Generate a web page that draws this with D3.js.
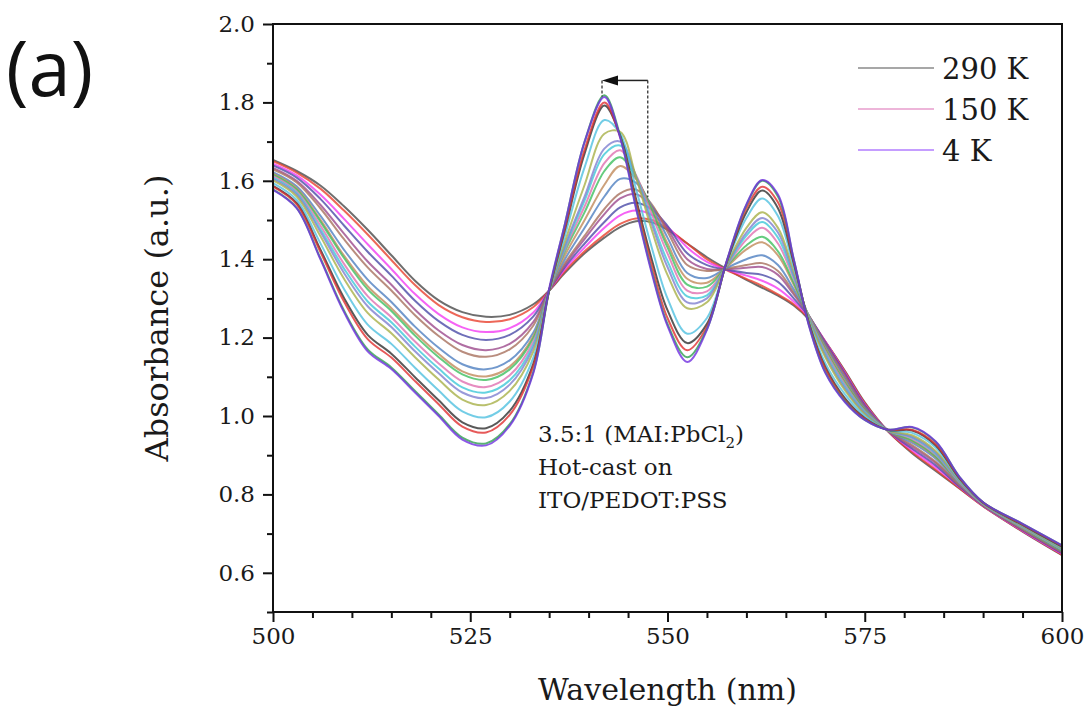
<!DOCTYPE html>
<html lang="en">
<head>
<meta charset="UTF-8">
<title>Absorbance vs wavelength</title>
<script src="https://d3js.org/d3.v7.min.js"></script>
<style>
  body { margin: 0; background: #fff; }
</style>
</head>
<body>
<svg id="chart"></svg>
<script>
// wavelengths (nm) shared by every spectrum
const wavelength = [500, 503, 506, 509, 512, 515, 518, 521, 524, 527, 530, 533,
  535, 537, 539.5, 542, 544, 546, 548, 550, 552.5, 555, 557.5, 560, 562, 564, 566, 568, 570, 572.5, 575,
  578, 581, 584, 587, 590, 595, 600];

// one row per temperature, 290 K first, 4 K last
const spectra = [
  [1.653,1.625,1.588,1.535,1.475,1.41,1.345,1.295,1.265,1.253,1.258,1.285, 1.32,1.365,1.415,1.455,1.482,1.497,1.494,1.475,1.44,1.405,1.375,1.347,1.327,1.307,1.282,1.245,1.19,1.115,1.035, 0.96,0.905,0.86,0.815,0.77,0.705,0.645],
  [1.650,1.621,1.580,1.524,1.463,1.398,1.334,1.283,1.252,1.240,1.247,1.278, 1.32,1.37,1.42,1.462,1.49,1.504,1.50,1.478,1.44,1.40,1.372,1.35,1.332,1.31,1.285,1.247,1.19,1.113,1.033, 0.960,0.908,0.863,0.816,0.770,0.706,0.646],
  [1.644,1.614,1.565,1.503,1.438,1.375,1.311,1.260,1.226,1.214,1.224,1.264, 1.32,1.375,1.43,1.48,1.512,1.524,1.513,1.483,1.43,1.393,1.373,1.358,1.345,1.325,1.292,1.25,1.19,1.11,1.03, 0.961,0.913,0.869,0.819,0.771,0.707,0.648],
  [1.639,1.608,1.554,1.486,1.419,1.358,1.294,1.242,1.207,1.194,1.207,1.254, 1.32,1.38,1.44,1.495,1.532,1.544,1.527,1.485,1.415,1.385,1.373,1.365,1.36,1.342,1.30,1.252,1.188,1.108,1.028, 0.961,0.917,0.874,0.820,0.772,0.709,0.650],
  [1.633,1.600,1.539,1.465,1.394,1.335,1.271,1.218,1.181,1.168,1.184,1.240, 1.32,1.385,1.452,1.515,1.555,1.566,1.535,1.478,1.40,1.375,1.374,1.378,1.38,1.36,1.31,1.253,1.185,1.105,1.025, 0.961,0.922,0.880,0.823,0.773,0.710,0.652],
  [1.629,1.596,1.530,1.451,1.379,1.320,1.257,1.204,1.164,1.151,1.170,1.231, 1.32,1.39,1.46,1.528,1.568,1.578,1.54,1.47,1.385,1.37,1.376,1.385,1.39,1.37,1.315,1.253,1.183,1.10,1.022, 0.962,0.926,0.883,0.824,0.773,0.711,0.653],
  [1.622,1.586,1.511,1.424,1.348,1.291,1.228,1.174,1.132,1.119,1.142,1.213, 1.32,1.40,1.48,1.56,1.605,1.595,1.535,1.455,1.365,1.352,1.378,1.40,1.41,1.385,1.323,1.253,1.18,1.095,1.02, 0.962,0.932,0.891,0.827,0.774,0.713,0.655],
  [1.618,1.581,1.501,1.409,1.331,1.275,1.213,1.158,1.114,1.101,1.126,1.204, 1.32,1.41,1.50,1.59,1.638,1.605,1.53,1.44,1.35,1.34,1.38,1.425,1.443,1.41,1.335,1.252,1.175,1.09,1.017, 0.962,0.936,0.895,0.829,0.775,0.714,0.657],
  [1.616,1.578,1.496,1.403,1.323,1.268,1.205,1.150,1.106,1.092,1.119,1.199, 1.32,1.42,1.52,1.625,1.66,1.61,1.525,1.43,1.335,1.33,1.382,1.435,1.457,1.42,1.34,1.25,1.17,1.085,1.015, 0.962,0.938,0.897,0.830,0.775,0.715,0.657],
  [1.612,1.573,1.486,1.388,1.306,1.252,1.190,1.134,1.088,1.074,1.104,1.190, 1.32,1.425,1.535,1.645,1.678,1.615,1.515,1.415,1.32,1.318,1.383,1.45,1.48,1.44,1.35,1.25,1.165,1.08,1.012, 0.963,0.942,0.901,0.831,0.775,0.716,0.659],
  [1.608,1.569,1.477,1.376,1.292,1.239,1.177,1.121,1.073,1.060,1.091,1.182, 1.32,1.43,1.55,1.668,1.69,1.612,1.50,1.395,1.305,1.308,1.385,1.46,1.495,1.455,1.355,1.248,1.16,1.075,1.01, 0.963,0.945,0.904,0.833,0.776,0.717,0.660],
  [1.605,1.565,1.470,1.365,1.280,1.227,1.165,1.109,1.060,1.046,1.080,1.175, 1.32,1.435,1.56,1.682,1.70,1.61,1.49,1.38,1.29,1.30,1.386,1.468,1.505,1.468,1.36,1.246,1.155,1.07,1.007, 0.963,0.947,0.907,0.834,0.776,0.718,0.661],
  [1.601,1.560,1.459,1.350,1.263,1.211,1.150,1.093,1.042,1.028,1.064,1.165, 1.32,1.445,1.59,1.72,1.725,1.61,1.475,1.36,1.275,1.29,1.387,1.48,1.52,1.48,1.368,1.244,1.15,1.065,1.005, 0.963,0.951,0.911,0.836,0.777,0.719,0.662],
  [1.594,1.551,1.441,1.324,1.233,1.184,1.123,1.065,1.012,0.997,1.037,1.149, 1.32,1.46,1.635,1.755,1.72,1.58,1.43,1.30,1.21,1.25,1.39,1.505,1.555,1.51,1.38,1.238,1.135,1.055,1.0, 0.964,0.957,0.919,0.838,0.778,0.721,0.665],
  [1.587,1.543,1.425,1.301,1.207,1.159,1.099,1.040,0.984,0.969,1.013,1.134, 1.32,1.475,1.67,1.792,1.715,1.555,1.40,1.27,1.186,1.235,1.392,1.52,1.575,1.53,1.39,1.232,1.125,1.045,0.995, 0.964,0.963,0.925,0.841,0.779,0.722,0.667],
  [1.585,1.540,1.419,1.292,1.196,1.149,1.089,1.030,0.973,0.958,1.003,1.128, 1.32,1.48,1.68,1.80,1.712,1.545,1.385,1.25,1.168,1.228,1.393,1.53,1.585,1.545,1.395,1.23,1.12,1.04,0.993, 0.965,0.965,0.928,0.842,0.779,0.723,0.668],
  [1.578,1.531,1.403,1.269,1.170,1.124,1.064,1.004,0.945,0.930,0.979,1.113, 1.32,1.49,1.70,1.818,1.715,1.535,1.37,1.235,1.15,1.222,1.394,1.538,1.60,1.56,1.40,1.227,1.112,1.037,0.99, 0.965,0.971,0.934,0.845,0.780,0.725,0.670],
  [1.577,1.53,1.40,1.265,1.165,1.12,1.06,1.0,0.94,0.925,0.975,1.11, 1.325,1.49,1.70,1.814,1.71,1.53,1.365,1.23,1.138,1.22,1.395,1.54,1.602,1.565,1.40,1.225,1.11,1.035,0.99, 0.965,0.972,0.935,0.845,0.78,0.725,0.67]
];

// origin-like colour per spectrum (same order as spectra)
const colors = ["#4a4a4a", "#e8412e", "#f23cf2", "#4b4ba8", "#9c4a8c", "#a8705e",
  "#4f7fc0", "#c08a5a", "#3fbf5f", "#e070b0", "#3ec8d8", "#8080d0",
  "#a8b048", "#50c0e0", "#303030", "#e03030", "#30a050", "#7030e0"];

// legend shows only three of the spectra
const legendLabels = ["290 K", "150 K", "4 K"];
const legendColors = ["#8a8a8a", "#e79ccd", "#b27cff"];

const xTicks = [500, 525, 550, 575, 600];
const yTicks = [0.6, 0.8, 1.0, 1.2, 1.4, 1.6, 1.8, 2.0];

const noteLines = ["3.5:1 (MAI:PbCl", "Hot-cast on", "ITO/PEDOT:PSS"];
// peak shift arrow: from / to wavelength, height, dashed drop levels
const arrowFrom = 547.5, arrowTo = 541.7, arrowY = 1.856;
const dropFrom = 1.558, dropTo = 1.815;

const serif = "'DejaVu Serif', 'Liberation Serif', serif";
const W = 1092, H = 715;
const margin = {top: 24, right: 30, bottom: 103, left: 273};
const x0 = margin.left, x1 = W - margin.right, y0 = margin.top, y1 = H - margin.bottom;

const svg = d3.select("#chart").attr("width", W).attr("height", H);
svg.append("rect").attr("width", W).attr("height", H).attr("fill", "#fff");

const x = d3.scaleLinear().domain([500, 600]).range([x0, x1]);
const y = d3.scaleLinear().domain([0.5, 2.0]).range([y1, y0]);

svg.append("clipPath").attr("id", "plot-clip")
  .append("rect").attr("x", x0).attr("y", y0).attr("width", x1 - x0).attr("height", y1 - y0);

const line = d3.line()
  .x((d, i) => x(wavelength[i]))
  .y(d => y(d))
  .curve(d3.curveCatmullRom.alpha(0.5));

svg.append("g").attr("clip-path", "url(#plot-clip)")
  .selectAll("path")
  .data(spectra)
  .join("path")
  .attr("d", line)
  .attr("fill", "none")
  .attr("stroke", (d, i) => colors[i])
  .attr("stroke-opacity", 0.8)
  .attr("stroke-width", 2);

// axes: major + minor ticks outward
const xAxis = d3.axisBottom(x).tickValues(xTicks).tickFormat(d3.format("d")).tickSize(10).tickPadding(6);
const xMinor = d3.axisBottom(x).tickValues(d3.range(505, 600, 5).filter(v => v % 25)).tickSize(6).tickFormat("");
const yAxis = d3.axisLeft(y).tickValues(yTicks).tickFormat(d3.format(".1f")).tickSize(10).tickPadding(8);
const yMinor = d3.axisLeft(y).tickValues(d3.range(0.5, 2.0, 0.2).map(v => +v.toFixed(1))).tickSize(6).tickFormat("");

function styleAxis(g) {
  g.select(".domain").remove();
  g.selectAll("line").attr("stroke", "#111").attr("stroke-width", 2);
  g.selectAll("text").style("font-family", serif).style("font-size", "23px").attr("fill", "#1a1a1a");
}

svg.append("g").attr("transform", `translate(0,${y1})`).call(xAxis).call(styleAxis);
svg.append("g").attr("transform", `translate(0,${y1})`).call(xMinor).call(styleAxis);
svg.append("g").attr("transform", `translate(${x0},0)`).call(yAxis).call(styleAxis);
svg.append("g").attr("transform", `translate(${x0},0)`).call(yMinor).call(styleAxis);

// frame
svg.append("rect")
  .attr("x", x0).attr("y", y0).attr("width", x1 - x0).attr("height", y1 - y0)
  .attr("fill", "none").attr("stroke", "#111").attr("stroke-width", 2);

// axis titles
svg.append("text")
  .attr("x", (x0 + x1) / 2).attr("y", 700)
  .attr("text-anchor", "middle")
  .style("font-family", serif).style("font-size", "30px").attr("fill", "#1a1a1a")
  .text("Wavelength (nm)");

svg.append("text")
  .attr("transform", `translate(168,${(y0 + y1) / 2}) rotate(-90)`)
  .attr("text-anchor", "middle")
  .style("font-family", serif).style("font-size", "32px").attr("fill", "#1a1a1a")
  .text("Absorbance (a.u.)");

// panel label
svg.append("text")
  .attr("x", 6).attr("y", 96)
  .style("font-family", "'Open Sans', sans-serif").style("font-size", "76px").attr("fill", "#111")
  .text("(a)");

// legend
const legend = svg.append("g");
legendLabels.forEach((lab, k) => {
  const ly = 68 + k * 41;
  legend.append("line")
    .attr("x1", 858).attr("x2", 934).attr("y1", ly).attr("y2", ly)
    .attr("stroke", legendColors[k]).attr("stroke-width", 1.6);
  legend.append("text")
    .attr("x", 942).attr("y", ly + 11)
    .style("font-family", serif).style("font-size", "29px").attr("fill", "#1a1a1a")
    .text(lab);
});

// sample note
const note = svg.append("text")
  .style("font-family", serif).style("font-size", "23px").attr("fill", "#1a1a1a");
noteLines.forEach((t, k) => {
  note.append("tspan").attr("x", 538).attr("y", 442 + k * 33).text(t);
  if (k === 0) {
    note.append("tspan").style("font-size", "15px").attr("dy", 6).text("2");
    note.append("tspan").attr("dy", -6).text(")");
  }
});

// peak shift arrow with dashed guides
const ann = svg.append("g").attr("stroke", "#222");
ann.append("line")
  .attr("x1", x(arrowFrom)).attr("x2", x(arrowFrom))
  .attr("y1", y(arrowY)).attr("y2", y(dropFrom))
  .attr("stroke-dasharray", "3,2").attr("stroke-width", 1.2);
ann.append("line")
  .attr("x1", x(arrowTo)).attr("x2", x(arrowTo))
  .attr("y1", y(arrowY)).attr("y2", y(dropTo))
  .attr("stroke-dasharray", "3,2").attr("stroke-width", 1.2);
ann.append("line")
  .attr("x1", x(arrowFrom)).attr("x2", x(arrowTo) + 14)
  .attr("y1", y(arrowY)).attr("y2", y(arrowY))
  .attr("stroke-width", 1.5);
ann.append("path")
  .attr("d", `M${x(arrowTo)},${y(arrowY)} l16,-5 l0,10 z`)
  .attr("fill", "#111").attr("stroke", "none");
</script>
</body>
</html>
